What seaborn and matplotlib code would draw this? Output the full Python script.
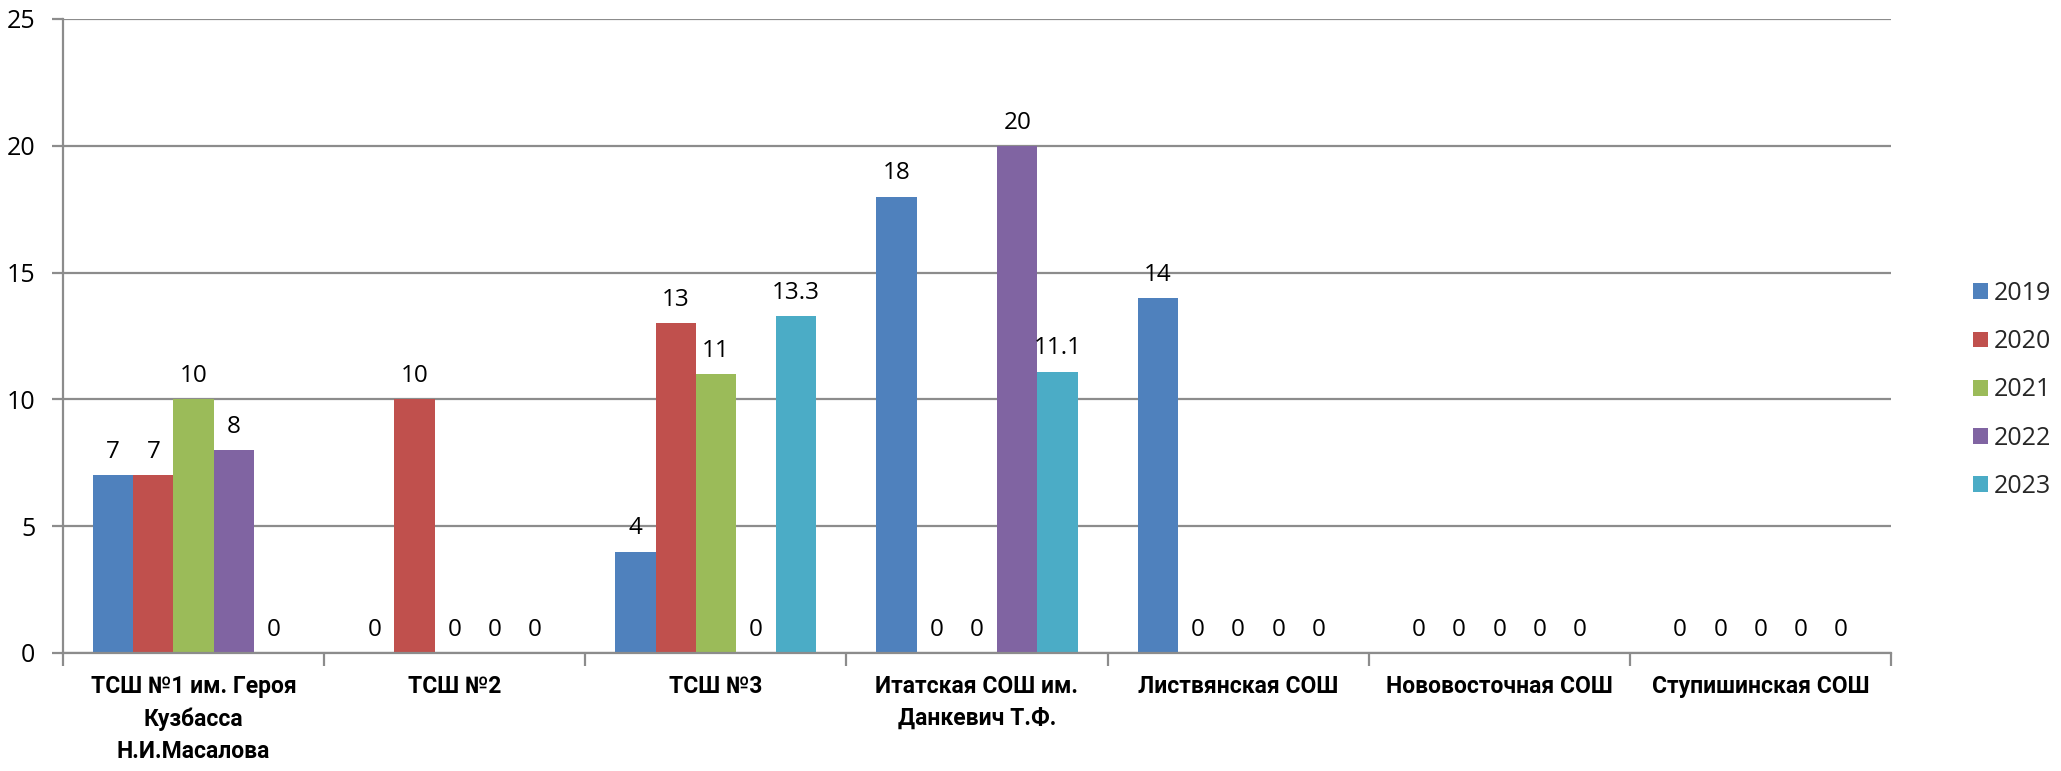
import matplotlib
matplotlib.use("Agg")
import matplotlib.pyplot as plt
import seaborn as sns
import pandas as pd
from matplotlib.patches import Patch

categories = [
    "ТСШ №1 им. Героя\nКузбасса\nН.И.Масалова",
    "ТСШ №2",
    "ТСШ №3",
    "Итатская СОШ им.\nДанкевич Т.Ф.",
    "Листвянская СОШ",
    "Нововосточная СОШ",
    "Ступишинская СОШ",
]
years = ["2019", "2020", "2021", "2022", "2023"]
v2019 = [7, 0, 4, 18, 14, 0, 0]
v2020 = [7, 10, 13, 0, 0, 0, 0]
v2021 = [10, 0, 11, 0, 0, 0, 0]
v2022 = [8, 0, 0, 20, 0, 0, 0]
v2023 = [0, 0, 13.3, 11.1, 0, 0, 0]
colors = ["#4F81BD", "#C0504D", "#9BBB59", "#8064A2", "#4BACC6"]

series = [v2019, v2020, v2021, v2022, v2023]
rows = []
for y, vals in zip(years, series):
    for c, v in zip(categories, vals):
        rows.append({"cat": c, "year": y, "value": v})
df = pd.DataFrame(rows)

sns.set_theme(style="white")
plt.rcParams["font.family"] = ["Open Sans", "DejaVu Sans"]

fig = plt.figure(figsize=(20.61, 7.71), dpi=100)
ax = fig.add_axes([63 / 2061, 1 - 653 / 771, (1891 - 63) / 2061, (653 - 19) / 771])

sns.barplot(data=df, x="cat", y="value", hue="year", order=categories,
            hue_order=years, palette=colors, width=0.77, saturation=1,
            errorbar=None, ax=ax, legend=False, linewidth=0)

for cont in ax.containers:
    labels = ["%g" % b.get_height() for b in cont]
    ax.bar_label(cont, labels=labels, padding=8, fontsize=17.5, color="black")

ax.set_ylim(0, 25)
ax.set_yticks([0, 5, 10, 15, 20, 25])
ax.set_xlim(-0.5, len(categories) - 0.5)
ax.yaxis.grid(True, color="#8c8c8c", linewidth=1.6)
ax.set_axisbelow(True)
for s in ["top", "right"]:
    ax.spines[s].set_visible(False)
for s in ["left", "bottom"]:
    ax.spines[s].set_color("#8c8c8c")
    ax.spines[s].set_linewidth(1.6)

ax.tick_params(axis="y", which="major", left=True, length=8, width=1.6,
               color="#8c8c8c", labelsize=18, pad=12, labelcolor="black")
ax.tick_params(axis="x", which="major", length=0, pad=16, labelcolor="black")
ax.set_xticks(range(len(categories)))
ax.set_xticklabels(categories, fontsize=16.5, fontweight="bold", linespacing=1.5,
                   va="top", family=["Roboto", "DejaVu Sans"])
ax.set_xticks([i - 0.5 for i in range(len(categories) + 1)], minor=True)
ax.tick_params(axis="x", which="minor", bottom=True, length=9, width=1.6,
               color="#8c8c8c")
ax.set_xlabel("")
ax.set_ylabel("")

handles = [Patch(facecolor=c, edgecolor="none") for c in colors]
fig.legend(handles, years, loc="center left", bbox_to_anchor=(1960 / 2061, 1 - 390 / 771),
           frameon=False, fontsize=18, handlelength=0.6, handleheight=0.6,
           handletextpad=0.25, labelspacing=0.93, borderpad=0)

fig.savefig("out.png", dpi=100)
